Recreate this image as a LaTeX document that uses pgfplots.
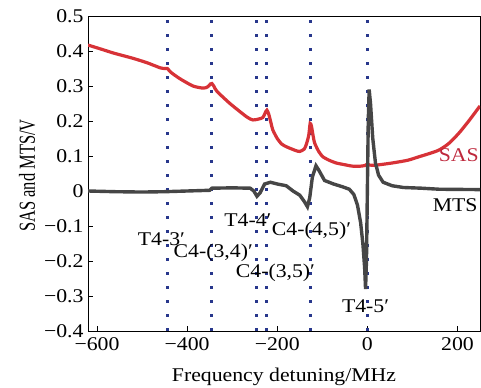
\documentclass[border=0pt]{standalone}
\usepackage{pgfplots}
\pgfplotsset{compat=1.18}
\usepackage{fontspec}
\setmainfont{Liberation Serif}[FakeStretch=1.12]
\newfontfamily\ylabfont{Liberation Serif}[FakeStretch=0.72]
\definecolor{sasred}{RGB}{215,50,55}
\definecolor{sastext}{RGB}{190,40,60}
\definecolor{mtsgray}{RGB}{70,70,70}
\definecolor{vline}{RGB}{40,55,140}
\begin{document}
\begin{tikzpicture}
\begin{axis}[
  scale only axis, width=392bp, height=315bp,
  xmin=-620, xmax=250, ymin=-0.4, ymax=0.5,
  xtick={-600,-400,-200,0,200},
  xticklabels={−600,−400,−200,0,200},
  ytick={-0.4,-0.3,-0.2,-0.1,0,0.1,0.2,0.3,0.4,0.5},
  yticklabels={−0.4,−0.3,−0.2,−0.1,0,0.1,0.2,0.3,0.4,0.5},
  xtick pos=bottom, ytick pos=left, tick align=inside,
  major tick length=5bp,
  tick style={black, line width=0.6bp},
  axis line style={line width=0.8bp},
  font=\fontsize{19.5}{22}\selectfont,
  xlabel={Frequency detuning/MHz},
  ylabel={\ylabfont\fontsize{23}{25}\selectfont SAS and MTS/V},
  every axis x label/.style={at={(axis description cs:0.5,0)}, anchor=center, yshift=-46bp},
  every axis y label/.style={at={(axis description cs:0,0.5)}, anchor=center, xshift=-61bp, yshift=-2bp, rotate=90},
  x tick label style={yshift=-3bp},
  y tick label style={xshift=-1bp},
  clip=true,
]
% dotted transition lines
\foreach \xv in {-444,-345,-245,-223,-126,0}{
  \edef\tmp{\noexpand\addplot[vline, line width=3bp, dash pattern=on 3bp off 11bp, forget plot] coordinates {(\xv,-0.4) (\xv,0.5)};}
  \tmp
}
% SAS
\addplot[sasred, line width=3.2bp, smooth, tension=0.4] coordinates {
(-620,0.417) (-590,0.405) (-563,0.394) (-520,0.379) (-488,0.366) (-460,0.352)
(-450,0.350) (-444,0.350) (-435,0.338) (-415,0.320) (-387,0.300) (-365,0.294)
(-355,0.297) (-348,0.306) (-345,0.307) (-340,0.298) (-334,0.285) (-305,0.250)
(-268,0.212) (-254,0.203) (-240,0.206) (-232,0.210) (-226,0.225) (-223,0.231)
(-219,0.220) (-214,0.195) (-210,0.175) (-200,0.150) (-190,0.134) (-179,0.126)
(-160,0.116) (-150,0.113) (-140,0.120) (-135,0.135) (-130,0.160) (-127,0.193)
(-124,0.185) (-120,0.155) (-117,0.137) (-108,0.113) (-99,0.098) (-85,0.088)
(-69,0.080) (-50,0.075) (-33,0.071) (-15,0.071) (-5,0.073) (0,0.077) (5,0.074)
(20,0.074) (55,0.080) (90,0.088) (115,0.098) (140,0.108) (159,0.117) (180,0.135)
(203,0.165) (225,0.200) (250,0.243)
};
% MTS
\addplot[mtsgray, line width=3.4bp] coordinates {
(-620,0) (-560,-0.002) (-500,-0.003) (-450,-0.002) (-400,0) (-350,0.002)
(-345,0.008) (-300,0.009) (-260,0.008) (-252,0) (-245,-0.015) (-238,-0.005)
(-228,0.020) (-215,0.025) (-200,0.020) (-180,0.015) (-165,0.000) (-150,-0.012)
(-140,-0.030) (-133,-0.045) (-128,-0.020) (-122,0.040) (-114,0.072) (-108,0.060)
(-95,0.030) (-75,0.020) (-55,0.012) (-40,0.005) (-30,-0.010) (-22,-0.040)
(-15,-0.090) (-10,-0.150) (-6,-0.220) (-4,-0.280) (-2,-0.200) (0,0) (2,0.200)
(4,0.290) (7,0.250) (12,0.150) (18,0.080) (25,0.045) (35,0.025) (55,0.015)
(80,0.010) (120,0.008) (160,0.005) (250,0.004)
};
\node at (axis cs:-457,-0.137) {T4-3′};
\node at (axis cs:-342,-0.178) {C4-(3,4)′};
\node at (axis cs:-265,-0.083) {T4-4′};
\node at (axis cs:-124,-0.113) {C4-(4,5)′};
\node at (axis cs:-204,-0.235) {C4-(3,5)′};
\node at (axis cs:-4,-0.330) {T4-5′};
\node[text=sastext] at (axis cs:203,0.103) {SAS};
\node at (axis cs:195,-0.040) {MTS};
\end{axis}
\pgfresetboundingbox
\path ([xshift=-88bp,yshift=16bp]current axis.north west) rectangle ([xshift=1bp,yshift=-57bp]current axis.south east);
\end{tikzpicture}
\end{document}
